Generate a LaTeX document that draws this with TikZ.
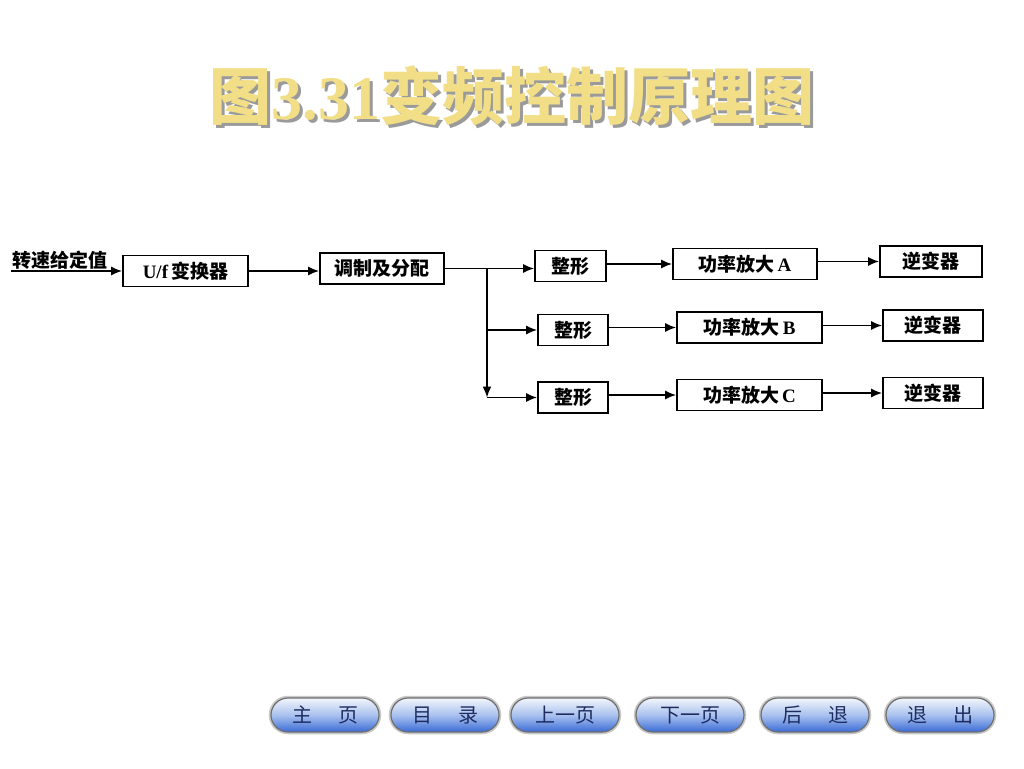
\documentclass[tikz,border=0pt]{standalone}
\usepackage{fontspec}
\setmainfont{Liberation Serif}
\newfontfamily\cjk{Noto Sans CJK SC}
\usetikzlibrary{arrows.meta,positioning}
\definecolor{titleyellow}{HTML}{F2DE86}
\definecolor{titleshadow}{HTML}{9A9A9A}
\definecolor{btntop}{HTML}{F3F6FC}
\definecolor{btnmid}{HTML}{A9C1EE}
\definecolor{btnbot}{HTML}{3A6BD6}
\definecolor{btntext}{HTML}{1E2C60}
\definecolor{btnborder}{HTML}{6E6E6E}
\definecolor{btnring}{HTML}{C8C8C8}
\newcommand{\ttltext}{{\cjk\bfseries 图}3.31{\cjk\bfseries 变频控制原理图}}
\tikzset{
  blk/.style={draw=black, line width=1.7pt, minimum height=31pt, inner sep=2pt,
    font=\fontsize{19}{21}\selectfont\bfseries, fill=white},
  arr/.style={line width=1.6pt, -{Latex[length=11pt,width=9pt]}},
  ln/.style={line width=1.6pt},
  btn/.style={rounded corners=17pt, minimum width=108pt, minimum height=34pt,
    top color=btntop, bottom color=btnbot, middle color=btnmid,
    draw=btnborder, line width=1.2pt,
    preaction={draw=btnring, line width=4.5pt},
    text=btntext, font=\cjk\fontsize{20}{22}\selectfont},
  ttl/.style={font=\fontsize{62}{66}\selectfont\bfseries, inner sep=0pt}
}
\begin{document}
\begin{tikzpicture}[x=1pt,y=-1pt]
\useasboundingbox (0,0) rectangle (1024,768);
\fill[white] (0,0) rectangle (1024,768);
% title (with drop shadow, in one node)
\node[ttl] (title) at (512,97) {\rlap{\hspace{3pt}\raisebox{-3pt}{\textcolor{titleshadow}{\ttltext}}}\textcolor{titleyellow}{\ttltext}};
% input label
\node[anchor=south west, inner sep=1pt, font=\cjk\bfseries\fontsize{19}{21}\selectfont] (in) at (11,271) {转速给定值};
\draw[ln] (in.south west) -- (in.south east);
% main row
\node[blk, minimum width=125pt] (uf) at (185.5,271) {U/f\,{\cjk 变换器}};
\node[blk, minimum width=124pt] (tz) at (382,268.5) {{\cjk 调制及分配}};
\draw[arr] (in.south east) -- (uf.west |- in.south east);
\draw[arr] (uf.east) -- (tz.west |- uf.east);
% row A
\node[blk, minimum width=71pt] (zA) at (570.5,266) {{\cjk 整形}};
\node[blk, minimum width=144pt] (pA) at (745,264) {{\cjk 功率放大}\,A};
\node[blk, minimum width=102pt] (nA) at (931,261.5) {{\cjk 逆变器}};
% row B
\node[blk, minimum width=70pt] (zB) at (573,330) {{\cjk 整形}};
\node[blk, minimum width=145pt] (pB) at (749.5,327.5) {{\cjk 功率放大}\,B};
\node[blk, minimum width=100pt] (nB) at (933,325.5) {{\cjk 逆变器}};
% row C
\node[blk, minimum width=70pt] (zC) at (573,397.5) {{\cjk 整形}};
\node[blk, minimum width=145pt] (pC) at (749.5,395) {{\cjk 功率放大}\,C};
\node[blk, minimum width=100pt] (nC) at (933,393) {{\cjk 逆变器}};
% distribution
\coordinate (br) at (487,268.5);
\draw[arr] (tz.east) -- (zA.west |- tz.east);
\draw[arr] (br) -- (br |- zC.west);
\draw[arr] (br |- zB.west) -- (zB.west);
\draw[arr] (br |- zC.west) -- (zC.west);
\draw[arr] (zA.east |- pA.west) -- (pA.west);
\draw[arr] (pA.east |- nA.west) -- (nA.west);
\draw[arr] (zB.east |- pB.west) -- (pB.west);
\draw[arr] (pB.east |- nB.west) -- (nB.west);
\draw[arr] (zC.east |- pC.west) -- (pC.west);
\draw[arr] (pC.east |- nC.west) -- (nC.west);
% buttons
\node[btn] (b1) at (325,715) {主\hspace{1.3em}页};
\node[btn] (b2) at (445,715) {目\hspace{1.3em}录};
\node[btn] (b3) at (565,715) {上一页};
\node[btn] (b4) at (690,715) {下一页};
\node[btn] (b5) at (815,715) {后\hspace{1.3em}退};
\node[btn] (b6) at (940,715) {退\hspace{1.3em}出};
\end{tikzpicture}
\end{document}
